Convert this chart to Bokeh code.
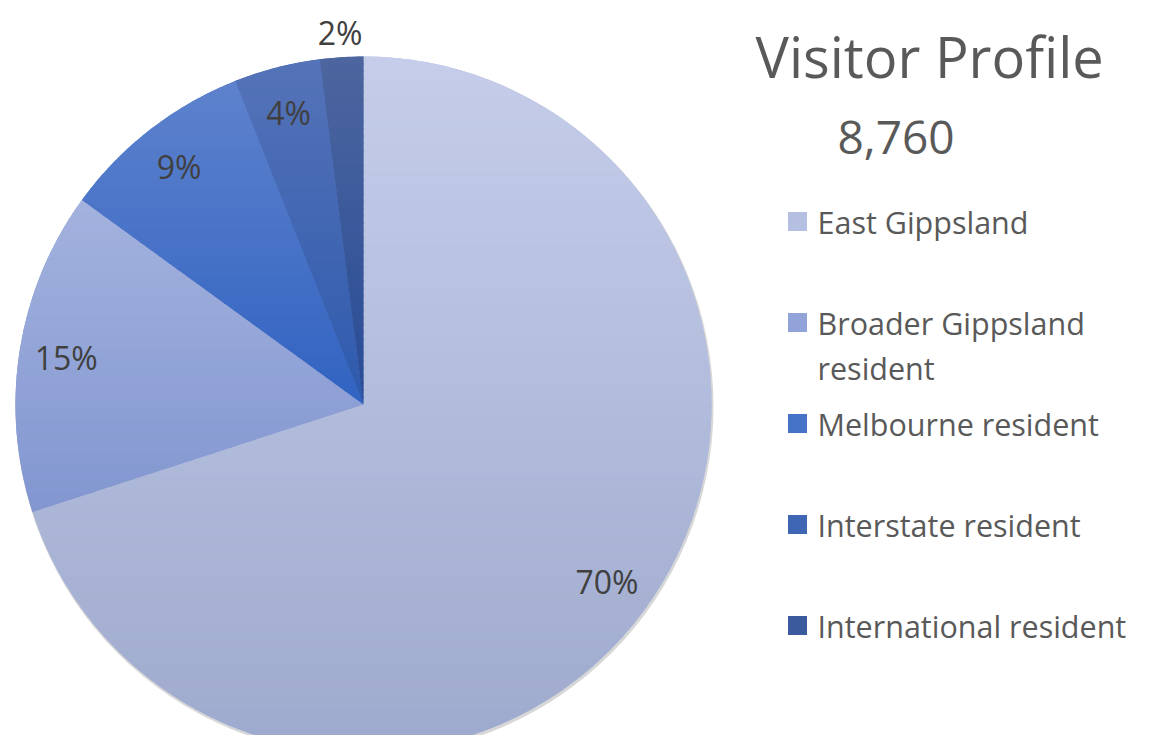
import numpy as np
from bokeh.plotting import figure
from bokeh.models import Range1d, ColumnDataSource
from bokeh.core.properties import value
from bokeh.embed import file_html
from bokeh.resources import INLINE

# ---- data ----
categories = ["East Gippsland", "Broader Gippsland\nresident", "Melbourne resident",
              "Interstate resident", "International resident"]
shares = [70, 15, 9, 4, 2]
pct_labels = ["70%", "15%", "9%", "4%", "2%"]
colors = ["#b5bfe2", "#91a3d8", "#4672c8", "#3f66b4", "#3a5a9d"]        # mid tones
top_colors = ["#c5cdea", "#a3b2de", "#5e82cd", "#5573b8", "#4d669f"]
bottom_colors = ["#9eaacd", "#8296d0", "#3163c1", "#2e5aad", "#284b96"]
title_text = "Visitor Profile"
total_text = "8,760"

# ---- layout (data coords == screen px, data y = 751 - screen y) ----
W, H = 1138, 735
FONT = "Open Sans"
cx, cy_pix, r = 363, 404, 348
cy = 751 - cy_pix

p = figure(width=W, height=H, x_range=Range1d(0, W), y_range=Range1d(751 - H, 751),
           output_backend="svg", toolbar_location=None, min_border=0)
p.axis.visible = False
p.grid.visible = False
p.outline_line_color = None
p.background_fill_color = "white"
p.border_fill_color = "white"

frac = np.array(shares, dtype=float) / sum(shares)
cum_after = np.cumsum(frac)
cum_before = cum_after - frac
start = np.pi / 2 - 2 * np.pi * cum_before
end = np.pi / 2 - 2 * np.pi * cum_after
mid = np.pi / 2 - 2 * np.pi * (cum_before + frac / 2)
lab_r = np.where(frac < 0.03, 1.07 * r, 0.865 * r)

src = ColumnDataSource(dict(cat=categories, share=shares, start=start, end=end,
                            color=colors, lab=pct_labels,
                            lx=cx + lab_r * np.cos(mid), ly=cy + lab_r * np.sin(mid)))

# subtle shadow
p.circle(x=cx + 1, y=cy - 2, radius=r + 1, fill_color="#9a9a9a", fill_alpha=0.4, line_color=None)
# base slices
p.wedge(x=cx, y=cy, radius=r, start_angle="start", end_angle="end", direction="clock",
        fill_color="color", line_color=None, source=src)


# ---- vertical gradient shading of each slice (bands clipped to the slice) ----
def hex2rgb(h):
    h = h.lstrip("#")
    return np.array([int(h[i:i + 2], 16) for i in (0, 2, 4)], dtype=float)


def rgb2hex(c):
    return "#%02x%02x%02x" % tuple(int(round(v)) for v in c)


def clip(xs, ys, lim, keep_above):
    ox, oy = [], []
    n = len(xs)
    for i in range(n):
        x1, y1, x2, y2 = xs[i - 1], ys[i - 1], xs[i], ys[i]
        in1 = y1 >= lim if keep_above else y1 <= lim
        in2 = y2 >= lim if keep_above else y2 <= lim
        if in2:
            if not in1:
                t = (lim - y1) / (y2 - y1)
                ox.append(x1 + t * (x2 - x1)); oy.append(lim)
            ox.append(x2); oy.append(y2)
        elif in1:
            t = (lim - y1) / (y2 - y1)
            ox.append(x1 + t * (x2 - x1)); oy.append(lim)
    return ox, oy


band_xs, band_ys, band_col = [], [], []
NB = 48
for s, e, tc, bc in zip(start, end, top_colors, bottom_colors):
    npts = max(8, int(abs(s - e) * 120))
    t = np.linspace(s, e, npts)
    wx = np.concatenate([[cx], cx + r * np.cos(t)])
    wy = np.concatenate([[cy], cy + r * np.sin(t)])
    ytop, ybot = wy.max(), wy.min()
    c_top, c_bot = hex2rgb(tc), hex2rgb(bc)
    edges = np.linspace(ytop, ybot, NB + 1)
    for k in range(NB):
        hi, lo = edges[k] + 0.7, edges[k + 1] - 0.7
        bx, by = clip(list(wx), list(wy), lo, True)
        if len(bx) < 3:
            continue
        bx, by = clip(bx, by, hi, False)
        if len(bx) < 3:
            continue
        f = (k + 0.5) / NB
        band_xs.append(bx); band_ys.append(by)
        band_col.append(rgb2hex(c_top + (c_bot - c_top) * f))

p.patches(xs=band_xs, ys=band_ys, fill_color=band_col, line_color=None)

# percentage labels
p.text(x="lx", y="ly", text="lab", source=src, text_align="center", text_baseline="middle",
       text_font=value(FONT), text_font_size="32px", text_color="#404040")

# title and total
p.text(x=[755], y=[751 - 55], text=[title_text], text_align="left", text_baseline="alphabetic",
       text_font=value(FONT), text_font_size="56px", text_color="#595959")
p.text(x=[837], y=[751 - 137], text=[total_text], text_align="left", text_baseline="alphabetic",
       text_font=value(FONT), text_font_size="46px", text_color="#595959")

# legend
leg_y0, leg_step = 221, 101
idx = np.arange(len(categories))
leg_y = 751 - (leg_y0 + leg_step * idx)
lsrc = ColumnDataSource(dict(y=leg_y, ty=leg_y + 21, cat=categories, color=colors))
p.scatter(x=797, y="y", size=19, marker="square", fill_color="color", line_color=None, source=lsrc)
p.text(x=817, y="ty", text="cat", source=lsrc, text_align="left", text_baseline="top",
       text_line_height=1.08, text_font=value(FONT), text_font_size="30.5px", text_color="#595959")

open("out.html", "w").write(file_html(p, INLINE))
